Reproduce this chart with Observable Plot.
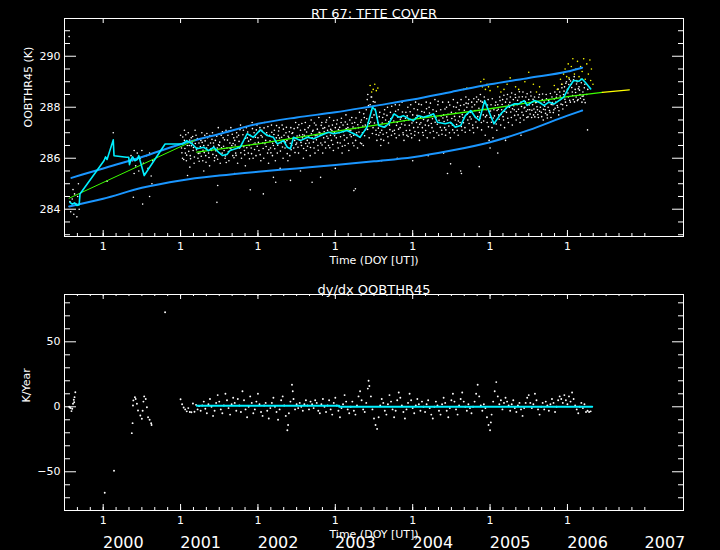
<!DOCTYPE html>
<html><head><meta charset="utf-8">
<script src="https://cdn.jsdelivr.net/npm/d3@7"></script>
<script src="https://cdn.jsdelivr.net/npm/@observablehq/plot@0.6"></script>
<style>html,body{margin:0;padding:0;background:#000;} #chart svg{display:block;}</style>
</head><body><div id="chart"></div>
<script>
// ---------- labels / ticks ----------
const mainTitle = "RT 67: TFTE COVER";
const derivTitle = "dy/dx OOBTHR45";
const xTitle = "Time (DOY [UT])";
const yTitleTop = "OOBTHR45 (K)";
const yTitleBottom = "K/Year";
const yearTicks = [2000, 2001, 2002, 2003, 2004, 2005, 2006];
const yearTickLabel = "1";
const yearLabelPos = [2000, 2001, 2002, 2003, 2004, 2005, 2006, 2007];
const yearLabels = ["2000", "2001", "2002", "2003", "2004", "2005", "2006", "2007"];
const topYMajor = [284, 286, 288, 290];
const topYMinor = [283, 283.5, 284.5, 285, 285.5, 286.5, 287, 287.5, 288.5, 289, 289.5, 290.5, 291];
const botYMajor = [-50, 0, 50];
const botYMinor = [-70, -60, -40, -30, -20, -10, 10, 20, 30, 40, 60, 70, 80];

// ---------- top panel data ----------
// scatter: each row = [bin start year, values...] (bin width 0.05 yr)
const cloudRows = [
[2001.00,286.9,286.4,286.0,286.6,287.1],[2001.05,286.7,286.2,285.9,286.5],[2001.10,287.0,286.5,286.1,286.8],
[2001.15,286.6,286.3,285.8,287.1],[2001.20,286.9,286.4,286.0,286.6],[2001.25,286.2,286.7,287.0,285.9],
[2001.30,286.5,286.9,286.1,286.4],[2001.35,286.8,286.2,285.7,286.6],[2001.40,286.3,287.0,286.6,285.9],
[2001.45,286.7,286.1,286.4,287.2],[2001.50,286.5,285.8,286.9,286.2],[2001.55,286.8,286.3,286.0,287.1],
[2001.60,286.4,286.9,285.9,286.6],[2001.65,287.2,286.5,286.1,286.8],[2001.70,286.7,286.2,287.0,285.8],
[2001.75,286.9,286.4,287.3,286.0],[2001.80,286.6,287.1,286.3,285.7],[2001.85,287.2,286.8,286.2,286.5],
[2001.90,286.9,286.4,287.4,286.0],[2001.95,287.0,286.6,286.1,287.3],[2002.00,286.8,286.3,287.2,285.9],
[2002.05,287.1,286.6,286.0,287.4],[2002.10,286.7,287.0,286.2,285.8],[2002.15,286.9,286.4,287.3,286.1],
[2002.20,286.5,287.1,285.9,286.8],[2002.25,286.2,286.9,287.2,285.6],[2002.30,286.6,287.3,286.0,286.9],
[2002.35,286.4,287.0,286.7,285.9],[2002.40,286.8,286.1,287.2,286.5],[2002.45,287.0,286.4,286.7,287.4],
[2002.50,286.6,287.2,286.2,286.9],[2002.55,287.1,286.5,286.8,286.0],[2002.60,286.9,287.4,286.3,286.7],
[2002.65,287.2,286.6,286.1,287.5],[2002.70,286.8,287.1,286.4,286.2],[2002.75,287.3,286.9,286.5,287.6],
[2002.80,287.0,286.6,287.4,286.2],[2002.85,286.8,287.2,286.4,287.5],[2002.90,287.1,286.5,287.6,286.9],
[2002.95,286.7,287.3,286.3,287.0],[2003.00,287.2,286.8,287.5,286.4],[2003.05,287.0,286.6,287.4,286.2],
[2003.10,287.3,286.9,286.5,287.7],[2003.15,286.8,287.2,286.3,287.5],[2003.20,287.1,287.6,286.6,286.9],
[2003.25,287.4,286.7,287.0,286.4],[2003.30,287.2,287.8,286.6,287.5],[2003.35,287.0,286.5,287.6,287.3],
[2003.40,287.9,288.3,287.4,286.8],[2003.45,288.1,288.4,287.6,287.2],[2003.50,287.7,288.2,287.1,286.7],
[2003.55,287.4,286.9,287.8,286.5],[2003.60,287.1,287.6,286.7,287.9],[2003.65,287.5,287.0,288.0,286.6],
[2003.70,287.3,287.8,286.9,287.6],[2003.75,287.7,287.1,288.1,286.8],[2003.80,287.4,287.9,286.9,287.2],
[2003.85,287.6,288.2,287.0,286.7],[2003.90,287.3,287.8,286.9,288.0],[2003.95,287.5,287.1,288.1,286.8],
[2004.00,287.7,287.2,286.9,288.2],[2004.05,287.4,287.9,287.0,286.7],[2004.10,287.6,288.1,287.2,286.9],
[2004.15,287.8,287.3,288.2,286.8],[2004.20,287.5,288.0,287.0,287.7],[2004.25,287.2,287.9,286.8,288.3],
[2004.30,287.6,287.0,288.1,286.9],[2004.35,287.4,287.9,287.1,288.2],[2004.40,287.7,287.2,286.9,288.0],
[2004.45,287.5,288.2,287.0,286.8],[2004.50,287.8,287.3,288.3,287.0],[2004.55,287.5,288.0,287.1,286.9],
[2004.60,287.9,287.4,288.3,287.1],[2004.65,287.6,288.1,287.2,288.4],[2004.70,288.0,287.5,288.3,287.1],
[2004.75,287.8,288.2,287.3,287.0],[2004.80,288.1,287.6,288.4,287.2],[2004.85,288.3,287.8,288.5,287.4],
[2004.90,288.2,287.7,288.4,286.9],[2004.95,287.9,287.4,288.3,286.7],[2005.00,287.6,288.1,287.2,286.8],
[2005.05,287.9,287.4,288.2,287.1],[2005.10,288.1,287.7,288.4,287.3],[2005.15,287.9,288.3,287.5,287.2],
[2005.20,288.2,287.8,288.5,287.4],[2005.25,288.0,288.4,287.6,287.3],[2005.30,288.3,287.9,288.5,287.5],
[2005.35,288.1,287.7,288.4,287.4],[2005.40,288.2,287.8,288.6,287.5],[2005.45,288.0,288.4,287.6,287.9],
[2005.50,288.3,287.9,288.6,287.6],[2005.55,288.1,287.7,288.4,287.8],[2005.60,288.2,287.9,287.6,288.5],
[2005.65,288.0,287.8,288.3,287.5],[2005.70,288.2,287.9,288.5,287.7],[2005.75,288.0,288.3,287.8,287.6],
[2005.80,288.4,288.1,287.9,288.6],[2005.85,288.2,288.5,288.0,287.7],[2005.90,288.6,288.3,288.9,288.1],
[2005.95,288.5,288.8,288.2,289.0],[2006.00,288.7,288.4,289.1,288.2],[2006.05,288.9,288.6,288.3,289.2],
[2006.10,288.7,288.4,289.0,288.3],[2006.15,288.8,288.5,289.1,288.2],[2006.20,288.6,288.3,288.9],
[2006.25,288.5,288.7]
];
// second pass of the same scatter (samples between the first ones)
const cloudRows2 = [
[2001.00,286.55,286.21,286.83,285.95],[2001.05,286.38,286.92,286.12,286.64],[2001.10,286.27,286.71,285.98,286.49],
[2001.15,286.85,286.42,286.05,286.58],[2001.20,286.33,286.77,286.19,285.88],[2001.25,286.46,286.08,286.62,286.31],
[2001.30,286.22,286.68,285.84,286.97],[2001.35,286.51,286.03,286.89,286.36],[2001.40,286.74,286.15,286.47,286.02],
[2001.45,286.29,286.86,285.96,286.53],[2001.50,286.63,286.18,286.41,287.04],[2001.55,286.47,286.72,286.09,285.83],
[2001.60,286.71,286.26,287.08,286.39],[2001.65,286.35,286.94,286.58,286.02],[2001.70,286.52,286.11,286.83,286.44],
[2001.75,286.66,287.12,286.21,286.48],[2001.80,286.92,286.45,286.14,286.78],[2001.85,286.41,287.03,286.67,285.98],
[2001.90,286.73,286.18,287.16,286.55],[2001.95,286.34,286.82,287.11,286.47],[2002.00,286.62,287.05,286.14,286.89],
[2002.05,286.83,286.38,287.19,286.57],[2002.10,286.46,286.91,287.24,286.33],[2002.15,286.68,286.21,287.02,286.59],
[2002.20,286.93,286.37,286.64,287.28],[2002.25,286.51,287.07,286.79,286.28],[2002.30,286.82,286.44,287.14,286.67],
[2002.35,286.63,287.21,286.18,286.86],[2002.40,287.04,286.59,286.33,286.97],[2002.45,286.78,287.16,286.22,286.54],
[2002.50,286.87,286.43,287.31,286.71],[2002.55,286.62,287.36,286.92,286.38],[2002.60,287.12,286.58,287.03,286.47],
[2002.65,286.84,287.27,286.42,286.96],[2002.70,287.06,286.63,287.38,286.88],[2002.75,286.72,287.14,286.31,287.02],
[2002.80,286.91,287.29,286.52,287.17],[2002.85,287.04,286.63,287.41,286.86],[2002.90,286.78,287.26,286.41,287.13],
[2002.95,287.09,286.54,287.48,286.88],[2003.00,286.97,287.34,286.61,287.12],[2003.05,287.21,286.84,287.57,286.47],
[2003.10,287.04,286.71,287.42,287.16],[2003.15,287.33,286.58,287.08,286.92],[2003.20,286.84,287.37,287.22,286.49],
[2003.25,287.17,287.58,286.91,287.31],[2003.30,287.03,286.82,287.41,286.57],[2003.35,287.26,287.74,286.88,287.12],
[2003.40,287.55,287.13,288.07,287.36],[2003.45,287.42,287.86,286.97,288.22],[2003.50,287.38,287.92,286.93,287.59],
[2003.55,287.18,287.63,287.01,286.74],[2003.60,287.38,286.94,287.73,287.22],[2003.65,287.27,287.68,286.84,287.43],
[2003.70,287.12,287.55,288.04,287.06],[2003.75,287.46,286.96,287.84,287.29],[2003.80,287.62,287.14,288.09,287.53],
[2003.85,287.34,287.81,286.92,287.47],[2003.90,287.57,287.09,287.66,286.85],[2003.95,287.29,287.82,286.96,287.38],
[2004.00,287.46,287.94,287.05,287.58],[2004.05,287.68,287.21,288.12,287.33],[2004.10,287.39,287.83,287.01,287.52],
[2004.15,287.61,287.09,287.94,287.46],[2004.20,287.28,287.77,288.16,287.36],[2004.25,287.55,287.06,287.64,287.41],
[2004.30,287.84,287.33,288.23,287.49],[2004.35,287.21,287.66,286.94,287.58],[2004.40,287.44,287.93,287.11,287.62],
[2004.45,287.72,287.26,288.09,287.38],[2004.50,287.56,287.11,288.02,287.64],[2004.55,287.77,287.32,288.18,287.46],
[2004.60,287.63,288.07,287.24,287.71],[2004.65,287.39,287.88,287.02,288.16],[2004.70,287.73,288.14,287.36,287.62],
[2004.75,287.54,288.01,287.19,288.33],[2004.80,287.87,287.42,288.21,287.63],[2004.85,287.96,287.57,288.24,287.11],
[2004.90,287.93,287.46,288.17,287.62],[2004.95,287.68,288.09,287.23,287.84],[2005.00,287.85,287.41,288.33,287.58],
[2005.05,287.66,288.08,287.34,287.87],[2005.10,287.92,287.53,288.26,287.71],[2005.15,288.11,287.63,288.47,287.84],
[2005.20,287.96,288.32,287.57,288.09],[2005.25,288.19,287.81,288.56,287.94],[2005.30,288.06,287.68,288.38,287.83],
[2005.35,288.27,287.92,288.61,287.58],[2005.40,288.03,288.41,287.69,287.97],[2005.45,288.22,287.84,288.53,287.62],
[2005.50,288.09,287.73,288.44,287.88],[2005.55,288.31,287.93,287.62,288.18],[2005.60,288.02,287.71,288.39,287.84],
[2005.65,288.16,287.63,288.52,287.92],[2005.70,288.04,287.76,288.33,287.58],[2005.75,288.26,287.87,288.54,288.11],
[2005.80,288.18,287.79,288.32,287.96],[2005.85,288.39,288.07,288.71,287.86],[2005.90,288.44,288.12,288.76,287.93],
[2005.95,288.63,288.31,288.94,288.07],[2006.00,288.56,288.89,288.27,289.03],[2006.05,288.77,288.46,289.08,288.21],
[2006.10,288.58,288.91,288.26,288.72],[2006.15,288.67,288.35,288.96,288.43],[2006.20,288.44,288.76,288.18]
];
// isolated white points [year, K]
const strayPts = [
[1999.56,290.77],[1999.57,284.3],[1999.58,283.9],[1999.60,284.4],[1999.62,283.8],[1999.63,284.6],
[1999.65,284.2],[1999.66,283.7],[1999.67,284.5],[1999.69,284.0],[1999.61,284.77],[1999.68,285.0],
[2000.13,287.0],[2000.05,285.1],
[2000.36,286.1],[2000.38,285.9],[2000.40,286.3],[2000.42,285.7],[2000.44,286.2],[2000.46,285.5],
[2000.48,286.0],[2000.50,286.3],[2000.52,285.8],[2000.54,285.4],[2000.56,286.1],[2000.58,285.6],
[2000.60,286.2],[2000.62,285.3],[2000.64,285.9],[2000.39,284.47],[2000.51,284.2],[2000.60,284.5],
[2000.63,285.0],[2000.40,285.4],
[2001.09,285.32],[2001.12,285.65],[2001.48,284.93],[2001.47,284.27],[2001.90,284.76],[2002.07,284.6],
[2002.20,285.25],[2002.23,285.06],[2002.42,285.13],[2002.70,285.06],[2002.81,285.25],[2003.24,284.73],
[2003.26,284.8],[2001.30,285.5],[2001.70,285.4],[2002.55,285.5],[2003.00,285.6],[2003.60,285.9],
[2003.80,286.0],[2004.00,285.9],[2004.20,286.1],[2004.45,285.4],[2004.49,285.78],[2004.62,285.5],
[2004.63,285.4],[2004.86,285.67],[2004.40,286.2],[2005.00,286.4],[2005.20,286.7],[2005.10,286.2],
[2006.26,287.11],[2005.40,286.9],[2003.42,288.5],[2003.47,288.4]
];
// points flagged yellow
const yellowPts = [
[2003.45,288.85],[2003.47,288.6],[2003.49,288.7],[2003.51,288.9],[2003.53,288.65],[2003.55,288.75],
[2004.66,288.7],[2004.70,288.75],
[2004.88,289.0],[2004.90,288.8],[2004.92,289.1],[2004.94,288.7],[2004.96,288.9],[2004.98,288.8],[2005.00,288.65],
[2005.10,288.8],[2005.14,288.6],[2005.18,288.7],[2005.22,288.9],[2005.26,289.15],
[2005.33,288.8],[2005.37,288.7],[2005.45,289.0],[2005.50,289.37],[2005.56,288.9],[2005.60,288.6],[2005.64,288.8],
[2005.83,288.85],[2005.87,288.7],
[2005.91,289.1],[2005.93,288.9],[2005.95,289.3],[2005.97,289.5],[2005.99,289.2],[2006.01,289.7],[2006.03,289.4],
[2006.05,289.6],[2006.07,289.9],[2006.09,289.3],[2006.11,289.5],[2006.13,289.8],[2006.15,289.2],[2006.17,289.6],
[2006.19,289.4],[2006.21,289.9],[2006.23,289.1],[2006.25,289.7],[2006.27,289.3],[2006.29,289.85],[2006.31,289.5],
[2006.33,288.9],[2006.30,289.05],[2006.02,289.15],[2006.12,289.05]
];
const upperEnv = [[1999.59,285.23],[2000,285.6],[2000.5,286.05],[2001,286.55],[2001.5,286.95],[2002,287.35],
[2002.5,287.6],[2003,287.8],[2003.5,288.05],[2004,288.3],[2004.5,288.6],[2005,288.9],[2005.5,289.15],[2006,289.4],[2006.19,289.55]];
const lowerEnv = [[1999.56,284.11],[2000,284.41],[2000.5,284.84],[2001,285.13],[2001.5,285.32],[2002,285.47],
[2002.5,285.6],[2003,285.73],[2003.5,285.88],[2004,286.04],[2004.5,286.3],[2005,286.63],[2005.5,287.1],[2006,287.67],[2006.19,287.87]];
const fitEarly = [[1999.56,284.43],[2001.19,286.72]];
const fitMain = [[2001.21,286.24],[2002,286.56],[2003,287.05],[2004,287.52],[2005,287.94],[2006,288.42],[2006.45,288.58]];
const fitExtrap = [[2006.45,288.58],[2006.80,288.68]];
const smoothPts = [
[1999.57,284.27],[1999.60,284.2],[1999.63,284.25],[1999.66,284.15],[1999.69,284.18],[1999.70,284.6],
[2000.01,285.9],[2000.03,286.05],[2000.05,285.95],[2000.13,286.72],[2000.14,286.1],[2000.30,286.04],
[2000.33,286.04],[2000.34,285.75],[2000.36,285.95],[2000.38,286.05],[2000.41,285.9],[2000.44,285.95],
[2000.46,286.1],[2000.53,285.32],[2000.80,286.56],[2001.03,286.56],[2001.08,286.69],[2001.15,286.56],
[2001.21,286.37],[2001.30,286.43],[2001.36,286.30],[2001.43,286.43],[2001.49,286.24],[2001.54,286.11],
[2001.60,286.15],[2001.64,286.30],[2001.77,286.43],[2001.86,286.96],[2001.94,286.82],[2002.03,287.11],
[2002.12,286.89],[2002.20,286.82],[2002.25,286.56],[2002.33,286.69],[2002.38,286.43],[2002.42,286.37],
[2002.46,286.82],[2002.55,286.69],[2002.64,286.82],[2002.72,286.76],[2002.81,286.89],[2002.91,287.02],
[2002.98,286.96],[2003.07,287.02],[2003.15,287.09],[2003.24,286.96],[2003.32,286.82],[2003.41,287.22],
[2003.48,288.0],[2003.52,287.87],[2003.56,287.28],[2003.63,287.22],[2003.69,287.35],[2003.76,287.74],
[2003.82,287.61],[2003.88,287.67],[2003.95,287.55],[2004.01,287.48],[2004.08,287.67],[2004.14,287.61],
[2004.21,287.67],[2004.27,287.74],[2004.32,287.41],[2004.42,287.35],[2004.49,287.41],[2004.55,287.22],
[2004.62,287.28],[2004.68,287.67],[2004.75,287.87],[2004.81,287.61],[2004.86,287.48],[2004.93,288.26],
[2004.98,287.87],[2005.05,287.35],[2005.14,287.74],[2005.22,288.0],[2005.31,288.13],[2005.37,288.13],
[2005.44,288.26],[2005.48,288.07],[2005.57,288.26],[2005.63,288.2],[2005.70,288.07],[2005.76,288.2],
[2005.83,288.13],[2005.89,288.26],[2005.95,288.39],[2006.02,288.78],[2006.08,289.05],[2006.15,289.02],
[2006.19,289.11],[2006.23,288.98],[2006.30,288.72]
];

// ---------- bottom panel data ----------
const derivPts = [
[1999.56,0],[1999.57,-0.5],[1999.58,-1],[1999.59,-3.3],[1999.60,-1.5],[1999.61,2.3],[1999.62,5.4],[1999.625,3.5],[1999.63,7.4],[1999.64,11.2],
[2000.02,-66.2],[2000.14,-49.2],[2000.80,72.8],
[2000.37,-20.3],[2000.38,-12.6],[2000.385,1.0],[2000.39,4.9],[2000.41,7.4],[2000.42,6.0],[2000.436,2.3],[2000.45,-2.8],
[2000.48,-6.7],[2000.50,-9.2],[2000.51,-3.0],[2000.52,4.0],[2000.53,8.0],[2000.55,6.0],[2000.565,-0.3],[2000.58,-8.0],
[2000.60,-10.0],[2000.62,-12.6],[2000.625,-14.0],
[2001.00,5.8],[2001.02,2.0],[2001.04,-0.5],[2001.06,-2.0],[2001.08,-3.5],[2001.10,-1.0],[2001.12,-4.0],[2001.14,-4.2],
[2001.16,2.5],[2001.18,-3.8],[2001.20,1.5],[2001.22,-2.0],[2001.24,0.5],[2001.26,-3.0],[2001.28,1.0],[2001.30,4.0],
[2001.32,-1.5],[2001.34,-5.0],[2001.36,2.0],[2001.38,6.0],[2001.40,0.0],[2001.42,-7.0],[2001.44,-3.0],[2001.46,3.0],
[2001.48,9.0],[2001.50,4.0],[2001.52,-2.0],[2001.54,-5.0],[2001.56,1.0],[2001.58,10.0],[2001.60,5.0],[2001.62,-1.0],
[2001.64,-6.0],[2001.66,2.0],[2001.68,7.0],[2001.70,3.0],[2001.72,-3.0],[2001.74,6.0],[2001.76,1.0],[2001.78,-4.0],
[2001.80,12.0],[2001.82,5.0],[2001.84,-2.0],[2001.86,-8.0],[2001.88,0.0],[2001.90,8.0],[2001.92,3.0],[2001.94,-5.0],
[2001.96,-2.0],[2001.98,4.0],[2002.00,10.0],[2002.02,2.0],[2002.04,-4.0],[2002.06,-7.0],[2002.08,1.0],[2002.10,3.0],
[2002.12,-3.0],[2002.14,-9.0],[2002.16,-1.0],[2002.18,3.0],[2002.20,7.0],[2002.22,0.0],[2002.24,-4.0],[2002.26,-10.0],
[2002.28,-2.0],[2002.30,5.0],[2002.32,8.0],[2002.34,1.0],[2002.36,-7.0],[2002.38,-18.0],[2002.39,-14],[2002.40,-5.0],
[2002.42,4.0],[2002.44,17.0],[2002.45,12],[2002.46,6.0],[2002.48,-2.0],[2002.50,2.0],[2002.52,-1.0],[2002.54,3.0],
[2002.56,0.0],[2002.58,-3.0],[2002.60,2.0],[2002.62,5.0],[2002.64,1.0],[2002.66,-2.0],[2002.68,4.0],[2002.70,2.0],
[2002.72,-1.0],[2002.74,5.0],[2002.76,3.0],[2002.78,-3.0],[2002.80,-5.0],[2002.82,2.0],[2002.84,6.0],[2002.86,0.0],
[2002.88,-4.0],[2002.90,1.0],[2002.92,5.0],[2002.94,-2.0],[2002.96,-6.0],[2002.98,3.0],[2003.00,7.0],[2003.02,1.0],
[2003.04,-3.0],[2003.06,-8.0],[2003.08,-1.0],[2003.10,2.0],[2003.12,9.0],[2003.14,4.0],[2003.16,-2.0],[2003.18,-5.0],
[2003.20,0.0],[2003.22,4.0],[2003.24,-3.0],[2003.26,-6.0],[2003.28,1.0],[2003.30,8.0],[2003.32,12.0],[2003.34,5.0],
[2003.36,-2.0],[2003.38,-4.0],[2003.40,3.0],[2003.42,14.0],[2003.43,20.0],[2003.44,16],[2003.46,8.0],[2003.48,-2.0],
[2003.50,-9.0],[2003.52,-14.0],[2003.54,-17.0],[2003.56,-8.0],[2003.58,1.0],[2003.60,6.0],[2003.62,3.0],[2003.64,-3.0],
[2003.66,-6.0],[2003.68,2.0],[2003.70,9.0],[2003.72,4.0],[2003.74,-2.0],[2003.76,-8.0],[2003.78,-3.0],[2003.80,5.0],
[2003.82,11.0],[2003.84,7.0],[2003.86,1.0],[2003.88,-4.0],[2003.90,-9.0],[2003.92,-2.0],[2003.94,3.0],[2003.96,10.0],
[2003.98,5.0],[2004.00,-1.0],[2004.02,-5.0],[2004.04,1.0],[2004.06,6.0],[2004.08,2.0],[2004.10,-3.0],[2004.12,4.0],
[2004.14,0.0],[2004.16,-4.0],[2004.18,2.0],[2004.20,5.0],[2004.22,-1.0],[2004.24,-6.0],[2004.26,-9.0],[2004.28,0.0],
[2004.30,4.0],[2004.32,1.0],[2004.34,-3.0],[2004.36,-6.0],[2004.38,2.0],[2004.40,7.0],[2004.42,3.0],[2004.44,-3.0],
[2004.46,-8.0],[2004.48,-1.0],[2004.50,5.0],[2004.52,10.0],[2004.54,4.0],[2004.56,-2.0],[2004.58,-6.0],[2004.60,1.0],
[2004.62,6.0],[2004.64,11.0],[2004.66,4.0],[2004.68,0.0],[2004.70,-3.0],[2004.72,2.0],[2004.74,-1.0],[2004.76,-5.0],
[2004.78,0.0],[2004.80,4.0],[2004.82,10.0],[2004.84,17.0],[2004.86,8.0],[2004.88,1.0],[2004.90,-3.0],[2004.92,2.0],
[2004.94,-1.0],[2004.96,-8.0],[2004.98,-14.0],[2005.00,-18.0],[2005.01,-12],[2005.02,-6.0],[2005.04,4.0],[2005.06,12.0],
[2005.08,19.0],[2005.10,8.0],[2005.12,2.0],[2005.14,5.0],[2005.16,-2.0],[2005.18,3.0],[2005.20,7.0],[2005.22,4.0],
[2005.24,1.0],[2005.26,-3.0],[2005.28,2.0],[2005.30,5.0],[2005.32,-1.0],[2005.34,-4.0],[2005.36,1.0],[2005.38,3.0],
[2005.40,-2.0],[2005.42,-7.0],[2005.44,-1.0],[2005.46,3.0],[2005.48,7.0],[2005.50,9.0],[2005.52,3.0],[2005.54,-1.0],
[2005.56,2.0],[2005.58,10.0],[2005.60,5.0],[2005.62,-2.0],[2005.64,-6.0],[2005.66,0.0],[2005.68,3.0],[2005.70,-2.0],
[2005.72,4.0],[2005.74,1.0],[2005.76,-3.0],[2005.78,2.0],[2005.80,6.0],[2005.82,3.0],[2005.84,-4.0],[2005.86,0.0],
[2005.88,5.0],[2005.90,8.0],[2005.92,6.0],[2005.94,3.0],[2005.96,9.0],[2005.98,5.0],[2006.00,2.0],[2006.02,8.0],
[2006.04,4.0],[2006.06,11.0],[2006.08,6.0],[2006.10,1.0],[2006.12,-2.0],[2006.14,-5.0],[2006.16,0.0],[2006.18,3.0],
[2006.20,-1.0],[2006.22,2.0],[2006.24,-4.0],[2006.26,-3.0],[2006.28,-4.0],[2006.30,-3.5]
];
const derivFit = [[2001.21,0.8],[2003.05,0.8],[2003.05,0],[2006.32,0]];

// ---------- styling ----------
const WHITE = "#ffffff", BLUE = "#1a96ff", CYAN = "#00f0ff", GREEN = "#3cff00", YELLOW = "#ffff00";
const FONT = "DejaVu Sans, sans-serif";
const W = 720, ML = 64, MR = 37, IW = W - ML - MR;
const xDomain = [1999.5, 2007.5];
const xMinor = d3.range(1999.5, 2007.01, 1 / 6);

const cloud = [
  ...cloudRows.flatMap(([t, ...vs]) => vs.map((v, k) => ({t: t + k * 0.0125, v}))),
  ...cloudRows2.flatMap(([t, ...vs]) => vs.map((v, k) => ({t: t + 0.006 + k * 0.0115, v})))
];
const P = (arr) => arr.map(([t, v]) => ({t, v}));

function frameMarks(IH, topMinor, yMajor, yMinor) {
  return [
    Plot.frame({stroke: WHITE}),
    Plot.tickY(yMajor, {y: d => d, stroke: WHITE, insetRight: IW - 12}),
    Plot.tickY(yMinor, {y: d => d, stroke: WHITE, insetRight: IW - 6}),
    Plot.tickY(yMajor, {y: d => d, stroke: WHITE, insetLeft: IW - 11}),
    Plot.tickY(yMinor, {y: d => d, stroke: WHITE, insetLeft: IW - 5}),
    Plot.tickX(yearTicks, {x: d => d, stroke: WHITE, insetTop: IH - 6}),
    Plot.tickX(xMinor, {x: d => d, stroke: WHITE, insetTop: IH - 3}),
    Plot.tickX(yearTicks, {x: d => d, stroke: WHITE, insetBottom: IH - 5}),
    ...(topMinor ? [Plot.tickX(xMinor, {x: d => d, stroke: WHITE, insetBottom: IH - 2})] : [])
  ];
}
const plotStyle = {background: "#000", color: "#fff", fontFamily: FONT, fontSize: "11px", overflow: "visible"};

// ---------- top panel ----------
const H1 = 270, MT1 = 18, MB1 = 34;
const topPlot = Plot.plot({
  width: W, height: H1, marginLeft: ML, marginRight: MR, marginTop: MT1, marginBottom: MB1,
  x: {domain: xDomain, axis: null},
  y: {domain: [282.93, 291.48], axis: null},
  style: plotStyle,
  marks: [
    Plot.dot(cloud, {x: "t", y: "v", r: 0.8, fill: WHITE}),
    Plot.dot(P(strayPts), {x: "t", y: "v", r: 0.8, fill: WHITE}),
    Plot.dot(P(yellowPts), {x: "t", y: "v", r: 0.8, fill: YELLOW}),
    Plot.line(P(upperEnv), {x: "t", y: "v", stroke: BLUE, strokeWidth: 2, curve: "monotone-x"}),
    Plot.line(P(lowerEnv), {x: "t", y: "v", stroke: BLUE, strokeWidth: 2, curve: "monotone-x"}),
    Plot.line(P(fitEarly), {x: "t", y: "v", stroke: GREEN, strokeWidth: 1}),
    Plot.line(P(fitMain), {x: "t", y: "v", stroke: GREEN, strokeWidth: 1.3}),
    Plot.line(P(fitExtrap), {x: "t", y: "v", stroke: YELLOW, strokeWidth: 1.3}),
    Plot.line(P(smoothPts), {x: "t", y: "v", stroke: CYAN, strokeWidth: 1.6}),
    ...frameMarks(H1 - MT1 - MB1, false, topYMajor, topYMinor),
    Plot.axisY(topYMajor, {anchor: "left", tickSize: 0, tickPadding: 4, label: null, fontSize: 11}),
    Plot.axisX(yearTicks, {anchor: "bottom", tickSize: 0, tickPadding: 6, label: null, tickFormat: () => yearTickLabel, fontSize: 11}),
    Plot.text([mainTitle], {text: d => d, frameAnchor: "top", dy: -10, fontSize: 13}),
    Plot.text([xTitle], {text: d => d, frameAnchor: "bottom", dy: 27, fontSize: 11}),
    Plot.text([yTitleTop], {text: d => d, frameAnchor: "left", dx: -36, rotate: -90, fontSize: 11})
  ]
});

// ---------- bottom panel ----------
const H2 = 280, MT2 = 24, MB2 = 40;
const bottomPlot = Plot.plot({
  width: W, height: H2, marginLeft: ML, marginRight: MR, marginTop: MT2, marginBottom: MB2,
  x: {domain: xDomain, axis: null},
  y: {domain: [-79.8, 86.4], axis: null},
  style: plotStyle,
  marks: [
    Plot.dot(P(derivPts), {x: "t", y: "v", r: 0.95, fill: WHITE}),
    Plot.line(P(derivFit), {x: "t", y: "v", stroke: CYAN, strokeWidth: 2}),
    ...frameMarks(H2 - MT2 - MB2, true, botYMajor, botYMinor),
    Plot.axisY(botYMajor, {anchor: "left", tickSize: 0, tickPadding: 4, label: null, fontSize: 11}),
    Plot.axisX(yearTicks, {anchor: "bottom", tickSize: 0, tickPadding: 6, label: null, tickFormat: () => yearTickLabel, fontSize: 11}),
    Plot.text(yearLabelPos, {x: d => d + 0.26, text: (d, i) => yearLabels[i], frameAnchor: "bottom", dy: 37, fontSize: 16}),
    Plot.text([derivTitle], {text: d => d, frameAnchor: "top", dy: -10, fontSize: 13}),
    Plot.text([xTitle], {text: d => d, frameAnchor: "bottom", dy: 27, fontSize: 11}),
    Plot.text([yTitleBottom], {text: d => d, frameAnchor: "left", dx: -38, rotate: -90, fontSize: 11})
  ]
});

document.getElementById("chart").append(topPlot, bottomPlot);
</script></body></html>
